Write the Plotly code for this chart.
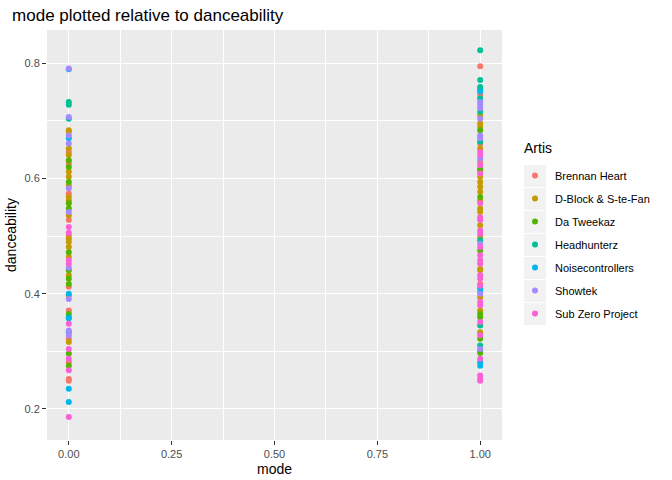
import plotly.graph_objects as go

artists = ["Brennan Heart", "D-Block & S-te-Fan", "Da Tweekaz", "Headhunterz",
           "Noisecontrollers", "Showtek", "Sub Zero Project"]
colors = ["#F8766D", "#C49A00", "#53B400", "#00C094", "#00B6EB", "#A58AFF", "#FB61D7"]

# danceability values at mode = 0, per artist
mode0 = {
    "Brennan Heart": [0.646, 0.626, 0.574, 0.528, 0.501, 0.412, 0.371, 0.322, 0.281, 0.252, 0.249],
    "D-Block & S-te-Fan": [0.684, 0.681, 0.652, 0.641, 0.612, 0.603, 0.588, 0.568, 0.562, 0.536,
                           0.496, 0.490, 0.481, 0.464, 0.432, 0.397, 0.316],
    "Da Tweekaz": [0.632, 0.620, 0.594, 0.557, 0.548, 0.472, 0.441, 0.426, 0.417, 0.365, 0.296, 0.275],
    "Headhunterz": [0.733, 0.728, 0.704, 0.359],
    "Noisecontrollers": [0.790, 0.670, 0.400, 0.357, 0.333, 0.235, 0.212],
    "Showtek": [0.791, 0.707, 0.675, 0.661, 0.583, 0.542, 0.445, 0.391, 0.336, 0.328],
    "Sub Zero Project": [0.516, 0.506, 0.458, 0.452, 0.348, 0.304, 0.287, 0.267, 0.186],
}
# danceability values at mode = 1, per artist
mode1 = {
    "Brennan Heart": [0.795, 0.745, 0.661, 0.629, 0.417],
    "D-Block & S-te-Fan": [0.710, 0.696, 0.690, 0.652, 0.603, 0.594, 0.586, 0.577, 0.562, 0.548,
                           0.542, 0.519, 0.499, 0.443, 0.441, 0.394, 0.371, 0.333],
    "Da Tweekaz": [0.684, 0.617, 0.614, 0.568, 0.475, 0.365, 0.359, 0.322, 0.301, 0.297],
    "Headhunterz": [0.823, 0.771, 0.759, 0.755, 0.739, 0.716, 0.664, 0.493, 0.345, 0.310],
    "Noisecontrollers": [0.751, 0.409, 0.403, 0.281, 0.275],
    "Showtek": [0.733, 0.728, 0.722, 0.704, 0.675, 0.670, 0.635, 0.487, 0.400, 0.304],
    "Sub Zero Project": [0.646, 0.641, 0.623, 0.609, 0.557, 0.533, 0.528, 0.510, 0.504, 0.481,
                         0.467, 0.458, 0.452, 0.432, 0.426, 0.414, 0.386, 0.380, 0.351, 0.328,
                         0.287, 0.258, 0.252, 0.249],
}

W, H = 672, 480
ML, MR, MT, MB = 47, 170, 30, 40
PW, PH = W - ML - MR, H - MT - MB


def px_x(p):
    return (p - ML) / PW


def px_y(p):
    return (H - MB - p) / PH


fig = go.Figure()
for a, c in zip(artists, colors):
    ys = mode0[a] + mode1[a]
    xs = [0] * len(mode0[a]) + [1] * len(mode1[a])
    fig.add_trace(go.Scatter(x=xs, y=ys, mode="markers", name=a, legendgroup=a,
                             marker=dict(color=c, size=6, line=dict(width=0))))

# legend key backgrounds (ggplot style)
shapes = []
for i in range(len(artists)):
    cy = 176 + 23 * i
    shapes.append(dict(type="rect", xref="paper", yref="paper",
                       x0=px_x(524), x1=px_x(546), y0=px_y(cy + 11), y1=px_y(cy - 11),
                       fillcolor="#F2F2F2", line=dict(width=0), layer="below"))

axis_common = dict(showgrid=True, gridcolor="white", gridwidth=1.1, zeroline=False,
                   ticks="outside", ticklen=4, tickcolor="#333333", tickwidth=1,
                   tickfont=dict(family="Liberation Sans, Arial", size=11, color="#4D4D4D"),
                   showline=False, automargin=False)
fig.update_layout(
    width=W, height=H,
    paper_bgcolor="white", plot_bgcolor="#EBEBEB",
    margin=dict(l=ML, r=MR, t=MT, b=MB),
    title=dict(text="mode plotted relative to danceability", x=0.018, xanchor="left",
               xref="container", yref="container", y=0.969, yanchor="middle",
               automargin=False,
               font=dict(family="Liberation Sans, Arial", size=17, color="black")),
    font=dict(family="Liberation Sans, Arial", color="black"),
    legend=dict(x=px_x(515), xanchor="left", y=px_y(161), yanchor="top", font=dict(size=11),
                tracegroupgap=4, bgcolor="rgba(0,0,0,0)"),
    shapes=shapes,
    annotations=[dict(text="Artis", xref="paper", yref="paper", x=px_x(522), y=px_y(148),
                      xanchor="left", yanchor="middle", showarrow=False,
                      font=dict(size=14, color="black"))],
)
fig.update_xaxes(**axis_common, range=[-0.053, 1.053], tickvals=[0, 0.25, 0.5, 0.75, 1.0],
                 ticktext=["0.00", "0.25", "0.50", "0.75", "1.00"],
                 title=dict(text="mode", font=dict(size=14), standoff=4),
                 minor=dict(tickvals=[0.125, 0.375, 0.625, 0.875], showgrid=True,
                            gridcolor="white", gridwidth=0.5, ticks=""))
fig.update_yaxes(**axis_common, range=[0.146, 0.858], tickvals=[0.2, 0.4, 0.6, 0.8],
                 ticktext=["0.2", "0.4", "0.6", "0.8"],
                 title=dict(text="danceability", font=dict(size=14), standoff=4),
                 minor=dict(tickvals=[0.3, 0.5, 0.7], showgrid=True,
                            gridcolor="white", gridwidth=0.5, ticks=""))
fig.write_html("out.html", config={"displayModeBar": False},
               post_script="document.body.style.margin='0';")
